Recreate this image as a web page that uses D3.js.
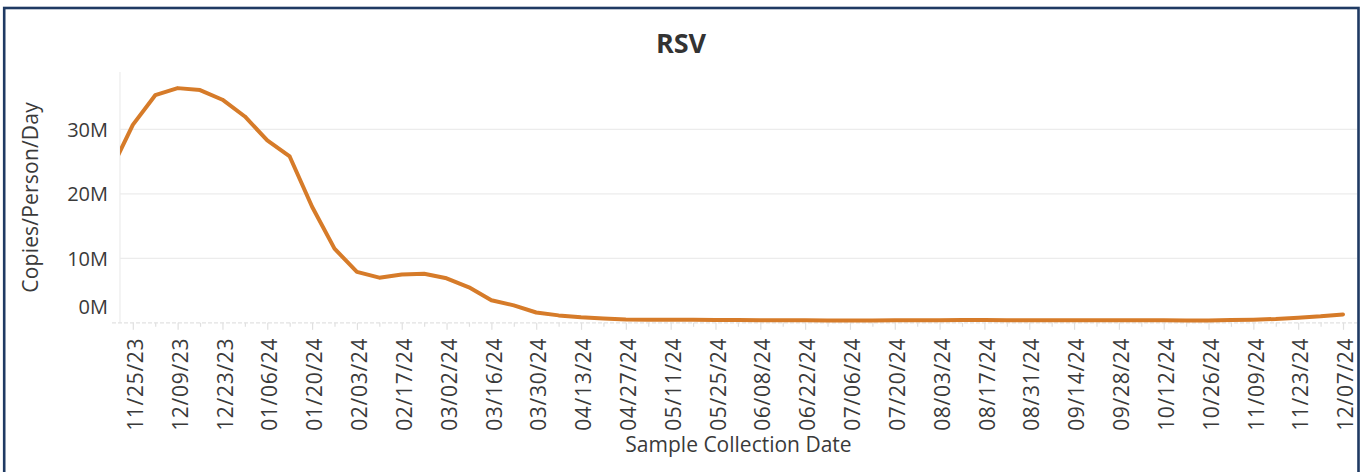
<!DOCTYPE html>
<html>
<head>
<meta charset="utf-8">
<script src="https://cdn.jsdelivr.net/npm/d3@7"></script>
<style>
  html, body { margin: 0; padding: 0; background: #fff; }
  svg { display: block; }
  text { font-family: "Open Sans", "Noto Sans", sans-serif; }
</style>
</head>
<body>
<svg id="chart" width="1362" height="472"></svg>
<script>
// ---- data ----
const sampleDates = [
  "11/18/23","11/25/23","12/02/23","12/09/23","12/16/23","12/23/23","12/30/23",
  "01/06/24","01/13/24","01/20/24","01/27/24","02/03/24","02/10/24","02/17/24",
  "02/24/24","03/02/24","03/09/24","03/16/24","03/23/24","03/30/24","04/06/24",
  "04/13/24","04/20/24","04/27/24","05/04/24","05/11/24","05/18/24","05/25/24",
  "06/01/24","06/08/24","06/15/24","06/22/24","06/29/24","07/06/24","07/13/24",
  "07/20/24","07/27/24","08/03/24","08/10/24","08/17/24","08/24/24","08/31/24",
  "09/07/24","09/14/24","09/21/24","09/28/24","10/05/24","10/12/24","10/19/24",
  "10/26/24","11/02/24","11/09/24","11/16/24","11/23/24","11/30/24","12/07/24"
];
// Copies/Person/Day, in millions
const rsvValues = [
  23.5, 30.7, 35.3, 36.4, 36.1, 34.6, 32.0,
  28.3, 25.8, 18.0, 11.5, 7.9, 7.0, 7.5,
  7.6, 6.9, 5.5, 3.5, 2.7, 1.6, 1.15,
  0.85, 0.65, 0.5, 0.48, 0.47, 0.46, 0.45,
  0.43, 0.40, 0.38, 0.38, 0.37, 0.37, 0.37,
  0.38, 0.39, 0.40, 0.42, 0.42, 0.41, 0.41,
  0.40, 0.39, 0.39, 0.39, 0.39, 0.38, 0.37,
  0.37, 0.42, 0.48, 0.60, 0.80, 1.0, 1.3
];
const xTickLabels = [
  "11/25/23","12/09/23","12/23/23","01/06/24","01/20/24","02/03/24","02/17/24",
  "03/02/24","03/16/24","03/30/24","04/13/24","04/27/24","05/11/24","05/25/24",
  "06/08/24","06/22/24","07/06/24","07/20/24","08/03/24","08/17/24","08/31/24",
  "09/14/24","09/28/24","10/12/24","10/26/24","11/09/24","11/23/24","12/07/24"
];
const yTickValues = [0, 10, 20, 30];
const yTickLabels = ["0M", "10M", "20M", "30M"];
const titleText = "RSV";
const xTitle = "Sample Collection Date";
const yTitle = "Copies/Person/Day";

// ---- layout ----
const parse = d3.utcParse("%m/%d/%y");
const fmt = d3.utcFormat("%m/%d/%y");
const plot = { left: 120, right: 1357, top: 72, bottom: 322.8 };

const x = d3.scaleUtc()
  .domain([parse("11/21/23"), parse("12/07/24")])
  .range([plot.left, 1343]);
const y = d3.scaleLinear().domain([0, 38.9]).range([plot.bottom, plot.top]);

const svg = d3.select("#chart");

// border
svg.append("rect")
  .attr("x", 4.2).attr("y", 8).attr("width", 1354.3).attr("height", 500)
  .attr("fill", "none").attr("stroke", "#1f3a63").attr("stroke-width", 2.6);

// title
svg.append("text")
  .attr("x", 681).attr("y", 53)
  .attr("text-anchor", "middle")
  .attr("font-size", 27).attr("font-weight", 700).attr("fill", "#333")
  .text(titleText);

// gridlines
svg.append("g").selectAll("line")
  .data(yTickValues.filter(v => v > 0))
  .join("line")
  .attr("x1", plot.left).attr("x2", plot.right)
  .attr("y1", d => y(d)).attr("y2", d => y(d))
  .attr("stroke", "#ececec").attr("stroke-width", 1.2);

// left axis line
svg.append("line")
  .attr("x1", plot.left).attr("x2", plot.left)
  .attr("y1", plot.top).attr("y2", plot.bottom)
  .attr("stroke", "#ececec").attr("stroke-width", 1.2);

// zero axis line
svg.append("line")
  .attr("x1", plot.left - 8).attr("x2", plot.right)
  .attr("y1", y(0)).attr("y2", y(0))
  .attr("stroke", "#e2e2e2").attr("stroke-width", 1.2)
  .attr("stroke-dasharray", "4,2");

// y labels
svg.append("g").selectAll("text")
  .data(yTickValues)
  .join("text")
  .attr("x", 108)
  .attr("y", d => y(d))
  .attr("dy", d => d === 0 ? "-0.45em" : "0.36em")
  .attr("text-anchor", "end")
  .attr("font-size", 20).attr("fill", "#3a3a3a")
  .text((d, i) => yTickLabels[i]);

// x axis with d3 axis
const majorDates = xTickLabels.map(parse);
const minorDates = sampleDates.map(parse).filter(d => !majorDates.some(m => +m === +d) && x(d) >= plot.left);

svg.append("g")
  .attr("transform", `translate(0,${plot.bottom})`)
  .call(d3.axisBottom(x).tickValues(minorDates).tickSize(4).tickFormat(""))
  .call(g => g.select(".domain").remove())
  .call(g => g.selectAll("line").attr("stroke", "#e0e0e0").attr("stroke-width", 1.2));

const xAxis = svg.append("g")
  .attr("transform", `translate(0,${plot.bottom})`)
  .call(d3.axisBottom(x).tickValues(majorDates).tickSize(7).tickFormat(fmt))
  .call(g => g.select(".domain").remove())
  .call(g => g.selectAll("line").attr("stroke", "#e0e0e0").attr("stroke-width", 1.2));

xAxis.selectAll("text")
  .attr("transform", "rotate(-90)")
  .attr("x", -15).attr("y", 0).attr("dy", "0.46em")
  .style("text-anchor", "end")
  .style("letter-spacing", "0.7px")
  .attr("font-size", 21).attr("fill", "#3a3a3a")
  .attr("font-family", "'Open Sans', sans-serif");

// axis titles
svg.append("text")
  .attr("x", (plot.left + plot.right) / 2).attr("y", 452)
  .attr("text-anchor", "middle")
  .attr("font-size", 21).attr("fill", "#3a3a3a")
  .text(xTitle);

svg.append("text")
  .attr("transform", `translate(38,${(plot.top + plot.bottom) / 2}) rotate(-90)`)
  .attr("text-anchor", "middle")
  .attr("font-size", 21).attr("fill", "#3a3a3a")
  .style("letter-spacing", "0.2px")
  .text(yTitle);

// clip + line
svg.append("clipPath").attr("id", "plotclip")
  .append("rect")
  .attr("x", plot.left).attr("y", 0)
  .attr("width", plot.right - plot.left + 10).attr("height", plot.bottom + 10);

const series = sampleDates.map((d, i) => ({ date: parse(d), value: rsvValues[i] }));
svg.append("path")
  .datum(series)
  .attr("clip-path", "url(#plotclip)")
  .attr("fill", "none")
  .attr("stroke", "#d67b29")
  .attr("stroke-width", 4)
  .attr("stroke-linejoin", "round")
  .attr("stroke-linecap", "round")
  .attr("d", d3.line().x(d => x(d.date)).y(d => y(d.value)));
</script>
</body>
</html>
